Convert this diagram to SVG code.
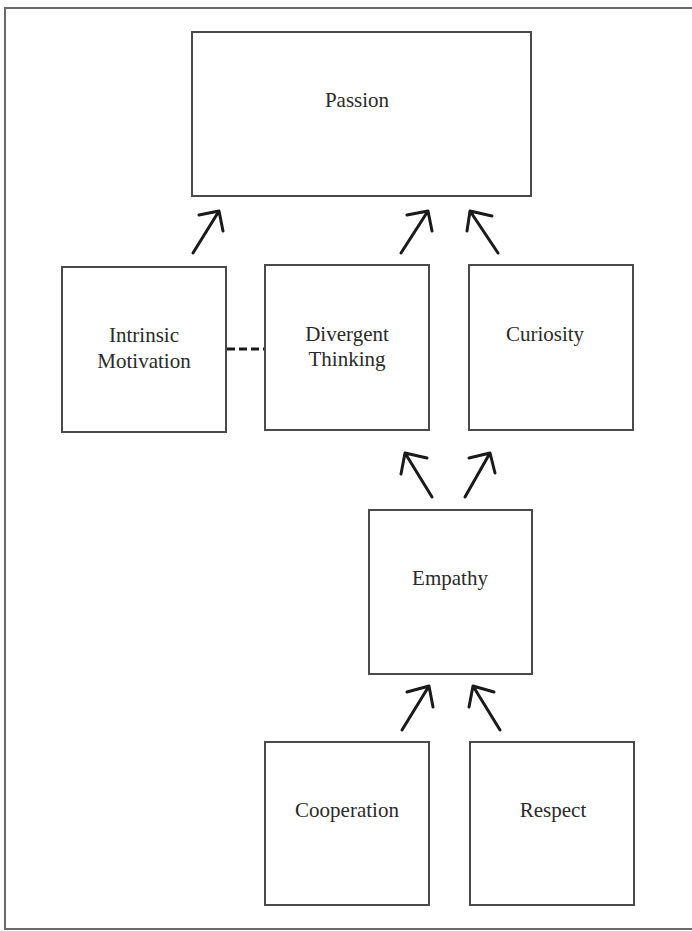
<svg xmlns="http://www.w3.org/2000/svg" width="692" height="931" viewBox="0 0 692 931">
  <style>
    .box { fill: #ffffff; stroke: #4a4a4a; stroke-width: 2; }
    .label { font-family: "Liberation Serif", "Times New Roman", serif; font-size: 21px; fill: #2a2a2a; text-anchor: middle; }
    .arrow { fill: none; stroke: #1a1a1a; stroke-width: 3; stroke-linecap: round; stroke-linejoin: round; }
    .dash { fill: none; stroke: #1a1a1a; stroke-width: 3; stroke-dasharray: 8 4; }
    .frame { fill: none; stroke: #6a6a6a; stroke-width: 2; }
  </style>
  <rect x="0" y="0" width="692" height="931" fill="#ffffff"/>

  <!-- page frame -->
  <path class="frame" d="M 700 8 H 5 V 929 H 700"/>

  <!-- connectors -->
  <g id="connectors">
    <!-- Intrinsic Motivation -> Passion -->
    <path class="arrow" d="M 193 253 L 219 211 M 199 215 L 219 211 L 223 231"/>
    <!-- Divergent Thinking -> Passion -->
    <path class="arrow" d="M 401 253 L 428 211 M 407 215 L 428 211 L 432 231"/>
    <!-- Curiosity -> Passion -->
    <path class="arrow" d="M 498 253 L 470 211 M 492 216 L 470 211 L 467 231"/>
    <!-- Empathy -> Divergent Thinking -->
    <path class="arrow" d="M 432 497 L 405 453 M 427 458 L 405 453 L 401 474"/>
    <!-- Empathy -> Curiosity -->
    <path class="arrow" d="M 465 497 L 490 453 M 469 458 L 490 453 L 495 473"/>
    <!-- Cooperation -> Empathy -->
    <path class="arrow" d="M 402 730 L 429 686 M 407 692 L 429 686 L 433 707"/>
    <!-- Respect -> Empathy -->
    <path class="arrow" d="M 500 730 L 473 686 M 494 692 L 473 686 L 469 707"/>
    <!-- Intrinsic Motivation - - Divergent Thinking -->
    <path class="dash" d="M 227 349 H 265"/>
  </g>

  <g id="passion">
    <rect class="box" x="192" y="32" width="339" height="164"/>
    <text class="label" x="357" y="107">Passion</text>
  </g>

  <g id="intrinsic-motivation">
    <rect class="box" x="62" y="267" width="164" height="165"/>
    <text class="label" x="144" y="342">Intrinsic</text>
    <text class="label" x="144" y="368">Motivation</text>
  </g>

  <g id="divergent-thinking">
    <rect class="box" x="265" y="265" width="164" height="165"/>
    <text class="label" x="347" y="341">Divergent</text>
    <text class="label" x="347" y="366">Thinking</text>
  </g>

  <g id="curiosity">
    <rect class="box" x="469" y="265" width="164" height="165"/>
    <text class="label" x="545" y="341">Curiosity</text>
  </g>

  <g id="empathy">
    <rect class="box" x="369" y="510" width="163" height="164"/>
    <text class="label" x="450" y="585">Empathy</text>
  </g>

  <g id="cooperation">
    <rect class="box" x="265" y="742" width="164" height="163"/>
    <text class="label" x="347" y="817">Cooperation</text>
  </g>

  <g id="respect">
    <rect class="box" x="470" y="742" width="164" height="163"/>
    <text class="label" x="553" y="817">Respect</text>
  </g>
</svg>
